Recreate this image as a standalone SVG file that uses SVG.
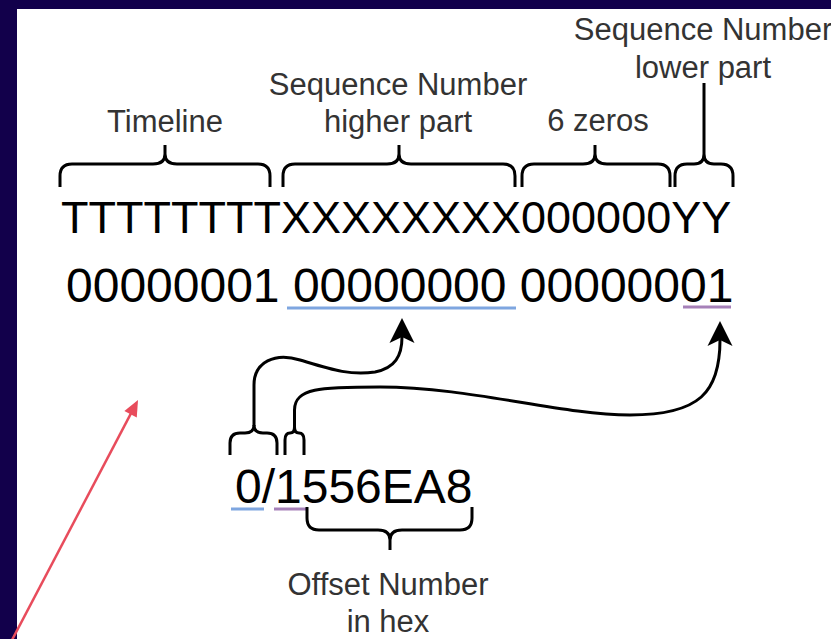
<svg xmlns="http://www.w3.org/2000/svg" width="831" height="639" viewBox="0 0 831 639">
<style>
.big{font-family:"Liberation Sans",Arial,sans-serif;fill:#000}
.lbl{font-family:"Liberation Sans",Arial,sans-serif;font-size:31px;fill:#333;text-anchor:middle}
.br{fill:none;stroke:#000;stroke-width:3}
.conn{fill:none;stroke:#000;stroke-width:3}
</style>
<defs>
<marker id="classic" markerUnits="userSpaceOnUse" markerWidth="26" markerHeight="26" viewBox="0 0 26 26" refX="6" refY="12.5" orient="auto" overflow="visible">
<path d="M0,0 L25,12.5 L0,25 L6,12.5 Z" fill="#000"/>
</marker>
<marker id="redhead" markerUnits="userSpaceOnUse" markerWidth="16" markerHeight="14" viewBox="0 0 16 14" refX="2" refY="7" orient="auto" overflow="visible">
<path d="M0,0 L16,7 L0,14 Z" fill="#e84c5c"/>
</marker>
</defs>
<rect x="0" y="0" width="831" height="639" fill="#12004b"/>
<rect x="17" y="9" width="814" height="630" fill="#fff"/>

<g id="timeline">
<path class="br" d="M60,187 V176 Q60,164 72,164 H153 Q165,164 165,154 V145 M165,154 Q165,164 177,164 H258 Q270,164 270,176 V187"/>
<text class="lbl" x="165" y="132">Timeline</text>
</g>
<g id="seq-higher">
<path class="br" d="M283,187 V176 Q283,164 295,164 H387 Q399,164 399,154 V145 M399,154 Q399,164 411,164 H503 Q515,164 515,176 V187"/>
<text class="lbl" x="398" y="95">Sequence Number</text>
<text class="lbl" x="398" y="132">higher part</text>
</g>
<g id="six-zeros">
<path class="br" d="M522,187 V176 Q522,164 534,164 H583 Q595,164 595,154 V145 M595,154 Q595,164 607,164 H658 Q670,164 670,176 V187"/>
<text class="lbl" x="598" y="131">6 zeros</text>
</g>
<g id="seq-lower">
<path class="br" d="M675,187 V176 Q675,164 687,164 H694 Q704,164 704,154 V83 M704,154 Q704,164 714,164 H721 Q733,164 733,176 V187"/>
<text class="lbl" x="703" y="40">Sequence Number</text>
<text class="lbl" x="703" y="78">lower part</text>
</g>

<g id="pattern">
<text class="big" x="61" y="233" font-size="45">TTTTTTTTXXXXXXXX000000YY</text>
</g>
<g id="binary">
<text class="big" x="66" y="302" font-size="48">00000001 00000000 00000001</text>
<line x1="287" y1="308" x2="516" y2="308" stroke="#7ea6e0" stroke-width="3"/>
<line x1="683" y1="307" x2="731" y2="307" stroke="#a680b8" stroke-width="3"/>
</g>
<g id="offset">
<text class="big" x="235" y="503" font-size="48">0/1556EA8</text>
<line x1="231" y1="509" x2="264" y2="509" stroke="#7ea6e0" stroke-width="3"/>
<line x1="274" y1="509" x2="306" y2="509" stroke="#a680b8" stroke-width="3"/>
<path class="br" d="M230,455 V443 Q230,433 240,433 H245 Q254,433 254,425 M254,425 Q254,433 263,433 H267 Q277,433 277,443 V455"/>
<path class="br" d="M285,455 V440 Q285,433 290,433 Q294.5,433 294.5,427 M294.5,427 Q294.5,433 299,433 Q304,433 304,440 V455"/>
</g>
<g id="offset-label">
<path class="br" d="M307,507 V518 Q307,530 319,530 H378 Q390,530 390,540 V550 M390,540 Q390,530 402,530 H460 Q472,530 472,518 V507"/>
<text class="lbl" x="388" y="595">Offset Number</text>
<text class="lbl" x="388" y="632">in hex</text>
</g>

<g id="connectors">
<path class="conn" d="M254,426 L254,385 C254,362 275,352 300,360 C330,369 350,376 375,372 C395,368 402,356 402,337" marker-end="url(#classic)"/>
<path class="conn" d="M294.5,428 L294.5,410 C294.5,388 320,387 380,387 C470,387 560,415 630,415 C700,415 720,392 720,340" marker-end="url(#classic)"/>
<line x1="12" y1="640" x2="131.5" y2="412.4" stroke="#e84c5c" stroke-width="2.5" marker-end="url(#redhead)"/>
</g>
</svg>
